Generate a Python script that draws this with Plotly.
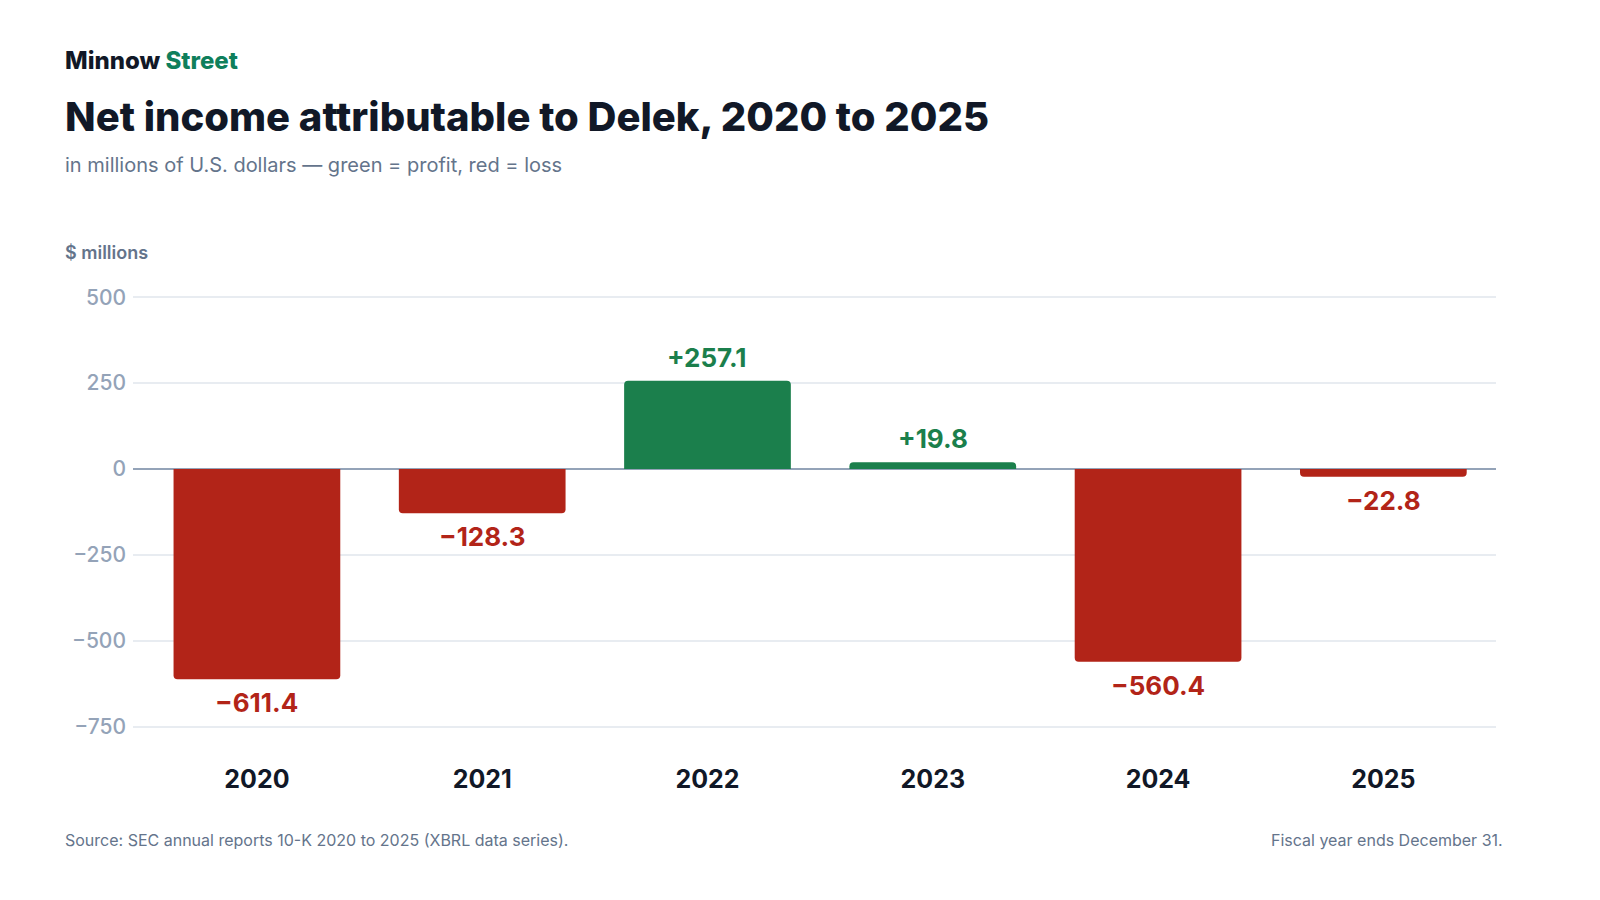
import plotly.graph_objects as go

years = ["2020", "2021", "2022", "2023", "2024", "2025"]
net_income = [-611.4, -128.3, 257.1, 19.8, -560.4, -22.8]
y_ticks = [-750, -500, -250, 0, 250, 500]

GREEN = "#1b7f4c"
RED = "#b22418"
INK = "#111827"
MUTED = "#64748b"
TICK = "#94a3b8"
FONT = "Inter"

colors = [GREEN if v >= 0 else RED for v in net_income]
labels = [("+" if v >= 0 else "\u2212") + f"{abs(v):.1f}" for v in net_income]

fig = go.Figure(go.Bar(
    x=years,
    y=net_income,
    marker=dict(color=colors, line=dict(width=0), cornerradius=4),
    width=0.74,
    hovertemplate="%{x}: %{y:.1f}<extra></extra>",
))

# value labels just past the end of each bar (x = category index)
for i, (v, lab, col) in enumerate(zip(net_income, labels, colors)):
    fig.add_annotation(
        x=i, y=v, text=lab, showarrow=False,
        yanchor="bottom" if v >= 0 else "top",
        yshift=6 if v >= 0 else -6,
        font=dict(family=FONT, size=26, color=col, weight=700),
    )

L, R, T, B = 133, 104, 280, 156
plot_w = 1600 - L - R
plot_h = 900 - T - B


def header(text, px_x, px_y, anchor="left", **font):
    # place text by page pixel position
    fig.add_annotation(
        text=text, xref="paper", yref="paper",
        x=(px_x - L) / plot_w, y=(900 - B - px_y) / plot_h,
        xanchor=anchor, yanchor="middle", showarrow=False,
        font=dict(family=FONT, **font),
    )


header("Minnow <span style='color:#0f7f5c'>Street</span>", 63, 61,
       size=24, color=INK, weight=800)
header("Net income attributable to Delek, 2020 to 2025", 63, 116,
       size=40, color=INK, weight=800)
header("in millions of U.S. dollars \u2014 green = profit, red = loss", 63, 165,
       size=20, color=MUTED)
header("$ millions", 63, 252, size=18, color=MUTED, weight=600)
header("Source: SEC annual reports 10-K 2020 to 2025 (XBRL data series).", 63, 840,
       size=16, color=MUTED)
header("Fiscal year ends December 31.", 1505, 840, anchor="right",
       size=16, color=MUTED)

fig.update_layout(
    width=1600,
    height=900,
    paper_bgcolor="white",
    plot_bgcolor="white",
    font=dict(family=FONT, color=INK),
    margin=dict(l=L, r=R, t=T, b=B),
    showlegend=False,
)

fig.update_xaxes(
    type="category",
    range=[-0.55, 5.5],
    showgrid=False,
    showline=False,
    ticks="",
    tickfont=dict(family=FONT, size=25, color=INK, weight=700),
    ticklabelstandoff=18,
)
fig.update_yaxes(
    range=[-800, 550],
    tickvals=y_ticks,
    showgrid=True,
    gridcolor="#e8ecf1",
    gridwidth=1.5,
    zeroline=True,
    zerolinecolor="#94a3b8",
    zerolinewidth=2,
    showline=False,
    ticks="",
    tickfont=dict(family=FONT, size=21, color=TICK, weight=500),
    ticklabelstandoff=6,
)

fig.write_html(
    "out.html",
    config={"displayModeBar": False},
    post_script="document.body.style.margin='0';document.body.style.overflow='hidden';",
)
